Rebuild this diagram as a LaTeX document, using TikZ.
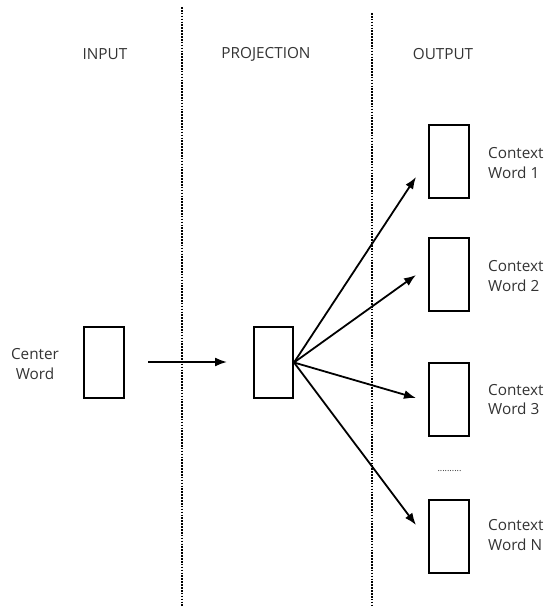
\documentclass[tikz,border=0pt]{standalone}
\usepackage{fontspec}
\setmainfont{Open Sans}
\usetikzlibrary{arrows.meta}
\definecolor{labelgray}{HTML}{333333}
\begin{document}
\begin{tikzpicture}[x=1pt,y=-1pt,
  vecbox/.style={draw=black, line width=2pt, fill=white, inner sep=0pt,
    minimum width=40pt},
  outbox/.style={vecbox, minimum height=73pt},
  label/.style={text=labelgray, font=\fontsize{15.3}{19.5}\selectfont, inner sep=0pt},
  ctxlabel/.style={label, align=left, anchor=west},
  divider/.style={line width=2pt, dash pattern=on 1.6pt off 1.3pt},
  arrowline/.style={line width=1.8pt, -{Latex[length=12pt,width=9pt]}}]
\useasboundingbox (0,0) rectangle (548,606);

% layer dividers
\draw[divider] (182,7) -- (182,606);
\draw[divider] (372,13) -- (372,606);

% column headings
\node[label] (hin)   at (105,54)  {INPUT};
\node[label] (hproj) at (266,54)  {PROJECTION};
\node[label] (hout)  at (443,54)  {OUTPUT};

% input and projection vectors
\node[vecbox, minimum height=71pt] (in)   at (104,362.5)   {};
\node[vecbox, minimum height=71pt, minimum width=39pt] (proj) at (273.5,362.5) {};
\node[label, align=center] (cw) at (35,364) {Center\\Word};

% output context vectors
\node[outbox] (c1) at (448.5,161)   {};
\node[outbox] (c2) at (448.5,274.5) {};
\node[outbox] (c3) at (448.5,399.5) {};
\node[outbox] (cn) at (448.5,536.5) {};

\node[ctxlabel] (l1) at (488,163) {Context\\Word 1};
\node[ctxlabel] (l2) at (488,276) {Context\\Word 2};
\node[ctxlabel] (l3) at (488,399.5) {Context\\Word 3};
\node[ctxlabel] (ln) at (488,535) {Context\\Word N};

\node[label, font=\fontsize{9}{10}\selectfont] (gap) at (449.5,471) {..........};

% arrow end points
\coordinate (a0s) at (148,362);
\coordinate (a0e) at (227,362);
\coordinate (t1) at (416,177);
\coordinate (t2) at (416,275);
\coordinate (t3) at (416,398);
\coordinate (tn) at (416,525);

% connectors
\draw[arrowline] (a0s) -- (a0e);
\draw[arrowline] (proj.east) -- (t1);
\draw[arrowline] (proj.east) -- (t2);
\draw[arrowline] (proj.east) -- (t3);
\draw[arrowline] (proj.east) -- (tn);
\end{tikzpicture}
\end{document}
